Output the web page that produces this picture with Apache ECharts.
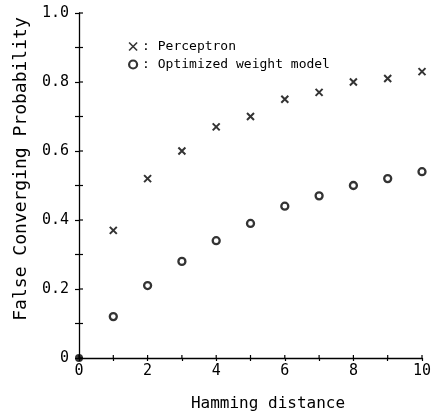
<!DOCTYPE html>
<html><head><meta charset="utf-8">
<script src="https://cdn.jsdelivr.net/npm/echarts@6/dist/echarts.min.js"></script>
<style>html,body{margin:0;padding:0;background:#fff}#c{width:442px;height:416px}</style>
</head><body><div id="c"></div>
<script>
const hamming = [1,2,3,4,5,6,7,8,9,10];
const perceptron = [0.37,0.52,0.60,0.67,0.70,0.75,0.77,0.80,0.81,0.83];
const optimized = [0.12,0.21,0.28,0.34,0.39,0.44,0.47,0.50,0.52,0.54];
const origin = [[0,0]];
const xTicks = [0,1,2,3,4,5,6,7,8,9,10];
const yTicks = [0,0.1,0.2,0.3,0.4,0.5,0.6,0.7,0.8,0.9,1.0];
const xTickLabels = ['0','2','4','6','8','10'];
const yTickLabels = ['0','0.2','0.4','0.6','0.8','1.0'];
const xTitle = 'Hamming distance';
const yTitle = 'False Converging Probability';
const names = ['Perceptron','Optimized weight model'];

const FONT = 'DejaVu Sans Mono';
const crossPath = 'path://M0,0L10,10M10,0L0,10';
const xFmt = v => { const s = String(Math.round(v)); return xTickLabels.includes(s) ? s : ''; };
const yFmt = v => { const s = v === 0 ? '0' : v.toFixed(1); return yTickLabels.includes(s) ? s : ''; };
const tickStyle = {color:'#000', width:1.2};

// inner halves of the "+"-shaped ticks, positioned through the axes' own scales
const innerTicks = [].concat(
  xTicks.map(v => ['x', v]),
  yTicks.map(v => ['y', v])
);

const chart = echarts.init(document.getElementById('c'));
chart.setOption({
  backgroundColor:'#fff',
  animation:false,
  grid:{left:79, right:20, top:13, bottom:58},
  xAxis:{type:'value', min:0, max:10, interval:1,
    axisLine:{show:true,onZero:false,lineStyle:{color:'#000',width:1.3}},
    splitLine:{show:false},
    axisTick:{show:true,inside:false,length:3,lineStyle:tickStyle},
    axisLabel:{formatter:xFmt,color:'#000',fontFamily:FONT,fontSize:15,margin:6}},
  yAxis:{type:'value', min:0, max:1, interval:0.1,
    axisLine:{show:true,onZero:false,lineStyle:{color:'#000',width:1.3}},
    splitLine:{show:false},
    axisTick:{show:true,inside:false,length:4,lineStyle:tickStyle},
    axisLabel:{formatter:yFmt,color:'#000',fontFamily:FONT,fontSize:15,margin:10}},
  legend:{
    orient:'vertical', left:123, top:35, itemWidth:8, itemHeight:8, itemGap:5,
    textStyle:{fontFamily:FONT,fontSize:13,color:'#000'},
    formatter: n => ': ' + n,
    data:[
      {name:names[0], icon:crossPath, itemStyle:{color:'#000',borderColor:'#000',borderWidth:1.6}},
      {name:names[1], icon:'circle', itemStyle:{color:'#fff',borderColor:'#000',borderWidth:2.2}}
    ]
  },
  graphic:[
    {type:'text', x:268, y:404, style:{text:xTitle, fill:'#000', font:'16px "DejaVu Sans Mono"', align:'center', verticalAlign:'middle'}},
    {type:'text', x:21, y:169, rotation:Math.PI/2, style:{text:yTitle, fill:'#000', font:'18px "DejaVu Sans Mono"', align:'center', verticalAlign:'middle'}}
  ],
  series:[
    {name:'ticks', type:'custom', silent:true, clip:false, z:3,
      encode:{x:-1, y:-1},
      data:innerTicks.map((t,i)=>[i]),
      renderItem:(params, api) => {
        const t = innerTicks[api.value(0)];
        if (t[0] === 'x') {
          const p = api.coord([t[1], 0]);
          return {type:'line', shape:{x1:p[0], y1:p[1], x2:p[0], y2:p[1]-3}, style:{stroke:'#000', lineWidth:1.2}};
        }
        const p = api.coord([0, t[1]]);
        return {type:'line', shape:{x1:p[0], y1:p[1], x2:p[0]+4, y2:p[1]}, style:{stroke:'#000', lineWidth:1.2}};
      }},
    {name:names[0], type:'scatter', symbol:crossPath, symbolSize:7,
      itemStyle:{color:'#000',borderColor:'#000',borderWidth:2},
      data:hamming.map((h,i)=>[h,perceptron[i]])},
    {name:names[1], type:'scatter', symbol:'circle', symbolSize:7,
      itemStyle:{color:'#fff',borderColor:'#000',borderWidth:2.3},
      data:hamming.map((h,i)=>[h,optimized[i]])},
    {name:'origin', type:'scatter', symbol:'circle', symbolSize:8, itemStyle:{color:'#000'},
      data:origin, z:5}
  ]
});
</script></body></html>
